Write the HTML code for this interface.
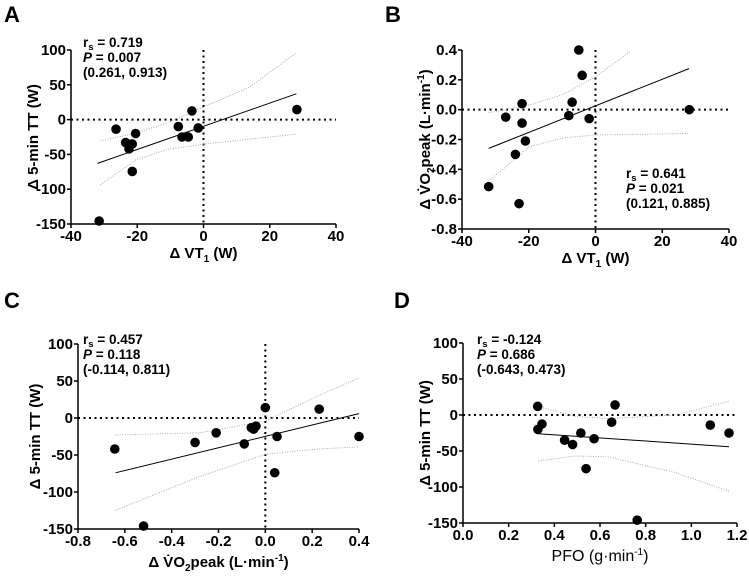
<!DOCTYPE html>
<html><head><meta charset="utf-8"><style>
html,body{margin:0;padding:0;background:#fff;}
svg{display:block;font-family:"Liberation Sans",Arial,sans-serif;font-weight:bold;}
</style></head><body>
<svg id="fig" width="749" height="576" viewBox="0 0 749 576" xmlns="http://www.w3.org/2000/svg"></svg>
<script>
// Panel A data
const aX = [-31.5,-26.4,-23.5,-22.5,-21.5,-21.5,-20.5,-7.6,-6.5,-4.6,-3.5,-1.6,28.2];
const aY = [-145.7,-13.8,-33,-42,-35,-74.5,-20,-10,-25,-25,12.5,-12,14.4];
const aLineX = [-32,28];
const aLineY = [-63,37];
const aBandX = [-31.2,-20.5,-11,0.4,14,28];
const aBandUp = [-30.5,-19.5,-5,19,47,96];
const aBandLo = [-94,-58,-43,-35,-28,-21];
// Panel B data
const bX = [-32,-26.9,-24,-22.9,-22,-22,-21,-8,-7,-5,-4,-1.9,28.1];
const bY = [-0.516,-0.05,-0.30,-0.63,0.04,-0.09,-0.21,-0.04,0.05,0.40,0.23,-0.06,0.0];
const bLineX = [-32,28];
const bLineY = [-0.26,0.275];
const bBandUpX = [-32,-20,-10,0,10.4];
const bBandUp = [-0.02,0.03,0.1,0.22,0.39];
const bBandLoX = [-32,-20,-10,0,28];
const bBandLo = [-0.48,-0.25,-0.19,-0.17,-0.16];
// Panel C data
const cX = [-0.643,-0.52,-0.30,-0.21,-0.09,-0.06,-0.05,-0.04,0,0.04,0.05,0.23,0.40];
const cY = [-41.9,-146,-33,-20,-35,-13,-15,-11,14,-74,-25,12,-25];
const cLineX = [-0.64,0.4];
const cLineY = [-74,6];
const cBandX = [-0.643,-0.28,0,0.22,0.4];
const cBandUp = [-23,-20,-4,29,54];
const cBandLo = [-125,-79,-49,-42,-39];
// Panel D data
const dX = [0.327,0.328,0.346,0.445,0.48,0.516,0.539,0.574,0.651,0.666,0.763,1.083,1.165];
const dY = [12,-20,-12.5,-35,-41,-25,-74.5,-33,-10,14,-146,-14,-25];
const dLineX = [0.33,1.165];
const dLineY = [-26,-44];
const dBandX = [0.33,0.49,0.635,0.93,1.165];
const dBandUp = [12,-2,-5,0,19];
const dBandLo = [-64,-57,-58,-80,-106];
// Tick labels
const ttTicks = [100,50,0,-50,-100,-150];
const vtTicks = [-40,-20,0,20,40];
const vo2Ticks = [0.4,0.2,0.0,-0.2,-0.4,-0.6,-0.8];
const vo2XTicks = [-0.8,-0.6,-0.4,-0.2,0.0,0.2,0.4];
const pfoTicks = [0.0,0.2,0.4,0.6,0.8,1.0,1.2];

const NS="http://www.w3.org/2000/svg";
const svg=document.getElementById('fig');
function mk(tag,attrs,parent){const e=document.createElementNS(NS,tag);for(const k in attrs)e.setAttribute(k,attrs[k]);(parent||svg).appendChild(e);return e;}

function panel(cfg){
  const g=mk('g',{});
  
  
  const sx=v=>cfg.x0+(v-cfg.xmin)/(cfg.xmax-cfg.xmin)*(cfg.x1-cfg.x0);
  const sy=v=>cfg.y1-(v-cfg.ymin)/(cfg.ymax-cfg.ymin)*(cfg.y1-cfg.y0);
  const L=mk('text',{x:cfg.lx,y:cfg.ly,'font-size':22},g);L.textContent=cfg.letter;
  
  
  const zh=mk('line',{x1:cfg.x0,x2:cfg.x1,y1:sy(0),y2:sy(0),stroke:'#000','stroke-width':2,'stroke-dasharray':'2,3.5'},g);
  
  
  if(cfg.xmin<0){const zv=mk('line',{x1:sx(0),x2:sx(0),y1:cfg.y0,y2:cfg.y1,stroke:'#000','stroke-width':2,'stroke-dasharray':'2,3.5'},g);
  
  }
  const pts=(xs,ys)=>xs.map((x,i)=>sx(x).toFixed(1)+','+sy(ys[i]).toFixed(1)).join(' ');
  const bu=mk('polyline',{points:pts(cfg.bux,cfg.bu),fill:'none',stroke:'#aaa','stroke-width':1,'stroke-dasharray':'1,1.5'},g);
  
  
  const bl=mk('polyline',{points:pts(cfg.blx,cfg.bl),fill:'none',stroke:'#aaa','stroke-width':1,'stroke-dasharray':'1,1.5'},g);
  
  
  const rl=mk('polyline',{points:pts(cfg.lx2,cfg.ly2),fill:'none',stroke:'#000','stroke-width':1},g);
  
  
  const ya=mk('line',{x1:cfg.x0,x2:cfg.x0,y1:cfg.y0,y2:cfg.y1,stroke:'#000','stroke-width':1.5},g);
  
  
  const xa=mk('line',{x1:cfg.x0,x2:cfg.x1,y1:cfg.y1,y2:cfg.y1,stroke:'#000','stroke-width':1.5},g);
  
  
  cfg.yt.forEach(v=>{
    mk('line',{x1:cfg.x0-4,x2:cfg.x0,y1:sy(v),y2:sy(v),stroke:'#000','stroke-width':1.5},g);
    const t=mk('text',{x:cfg.x0-5,y:sy(v)+5,'font-size':15,'text-anchor':'end'},g);
    t.textContent=cfg.ydec?v.toFixed(1):String(v);
    
    
  });
  cfg.xt.forEach(v=>{
    mk('line',{x1:sx(v),x2:sx(v),y1:cfg.y1,y2:cfg.y1+4,stroke:'#000','stroke-width':1.5},g);
    const t=mk('text',{x:sx(v),y:cfg.y1+17,'font-size':15,'text-anchor':'middle'},g);
    t.textContent=cfg.xdec?v.toFixed(1):String(v);
    
    
  });
  cfg.px.forEach((x,i)=>{
    const c=mk('circle',{cx:sx(x),cy:sy(cfg.py[i]),r:4.8,fill:'#000'},g);
    
    
  });
  const yt=mk('text',{x:0,y:0,'font-size':15,'text-anchor':'middle',transform:`translate(${cfg.ytx},${(cfg.y0+cfg.y1)/2}) rotate(-90)`},g);
  yt.innerHTML=cfg.ytitle;
  
  
  const xt=mk('text',{x:(cfg.x0+cfg.x1)/2,y:cfg.xty,'font-size':15,'text-anchor':'middle'},g);
  xt.innerHTML=cfg.xtitle;
  
  
  const s=mk('g',{'font-size':13.5},g);
  
  
  const t1=mk('text',{x:cfg.sx,y:cfg.sy},s);t1.innerHTML='r<tspan font-size="9.5" dy="3">s</tspan><tspan dy="-3"> = '+cfg.stats[0]+'</tspan>';
  const t2=mk('text',{x:cfg.sx,y:cfg.sy+15},s);t2.innerHTML='<tspan font-style="italic">P</tspan> = '+cfg.stats[1];
  const t3=mk('text',{x:cfg.sx,y:cfg.sy+30},s);t3.textContent=cfg.stats[2];
}
const vt1='Δ VT<tspan font-size="10" dy="4">1</tspan><tspan dy="-4"> (W)</tspan>';
const tt='Δ 5-min TT (W)';
const vo2='Δ V̇O<tspan font-size="10" dy="4">2</tspan><tspan dy="-4">peak (L·min</tspan><tspan font-size="10" dy="-6">-1</tspan><tspan dy="6">)</tspan>';
panel({name:'panel-a',letter:'A',lx:4,ly:22,x0:71,x1:336,y0:50,y1:224,xmin:-40,xmax:40,ymin:-150,ymax:100,
  px:aX,py:aY,lx2:aLineX,ly2:aLineY,bux:aBandX,bu:aBandUp,blx:aBandX,bl:aBandLo,yt:ttTicks,xt:vtTicks,
  ytx:38,ytitle:tt,xty:258,xtitle:vt1,sx:83,sy:47,stats:['0.719','0.007','(0.261, 0.913)']});
panel({name:'panel-b',letter:'B',lx:385,ly:22,x0:462,x1:729,y0:50,y1:229,xmin:-40,xmax:40,ymin:-0.8,ymax:0.4,ydec:true,
  px:bX,py:bY,lx2:bLineX,ly2:bLineY,bux:bBandUpX,bu:bBandUp,blx:bBandLoX,bl:bBandLo,yt:vo2Ticks,xt:vtTicks,
  ytx:430,ytitle:vo2,xty:263,xtitle:vt1,sx:626,sy:178,stats:['0.641','0.021','(0.121, 0.885)']});
panel({name:'panel-c',letter:'C',lx:4,ly:308,x0:78,x1:359,y0:344,y1:529,xmin:-0.8,xmax:0.4,ymin:-150,ymax:100,xdec:true,
  px:cX,py:cY,lx2:cLineX,ly2:cLineY,bux:cBandX,bu:cBandUp,blx:cBandX,bl:cBandLo,yt:ttTicks,xt:vo2XTicks,
  ytx:40,ytitle:tt,xty:567,xtitle:vo2,sx:83,sy:344,stats:['0.457','0.118','(-0.114, 0.811)']});
panel({name:'panel-d',letter:'D',lx:394,ly:308,x0:463,x1:737,y0:343,y1:523,xmin:0,xmax:1.2,ymin:-150,ymax:100,xdec:true,
  px:dX,py:dY,lx2:dLineX,ly2:dLineY,bux:dBandX,bu:dBandUp,blx:dBandX,bl:dBandLo,yt:ttTicks,xt:pfoTicks,
  ytx:430,ytitle:tt,xty:561,xtitle:'<tspan font-weight="normal" font-size="16">PFO (g·min</tspan><tspan font-weight="normal" font-size="10" dy="-6">-1</tspan><tspan font-weight="normal" font-size="16" dy="6">)</tspan>',
  sx:477,sy:344,stats:['-0.124','0.686','(-0.643, 0.473)']});
</script>
</body></html>
